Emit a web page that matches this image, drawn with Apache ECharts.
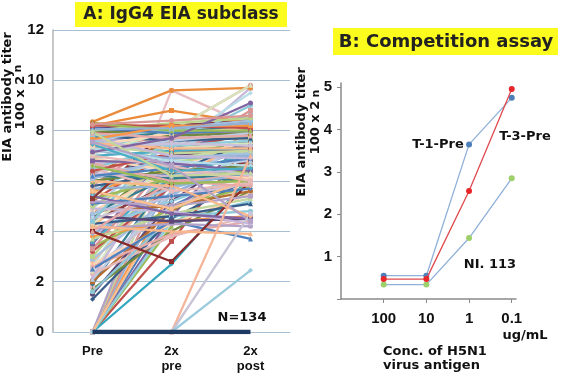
<!DOCTYPE html>
<html><head><meta charset="utf-8">
<script src="https://cdn.jsdelivr.net/npm/echarts@6/dist/echarts.min.js"></script>
<style>html,body{margin:0;padding:0;background:#fff}#c{width:565px;height:374px}</style>
</head><body><div id="c"></div>
<script>
// ---------- Panel A data ----------
const categoriesA = ['Pre', '2x\npre', '2x\npost'];
const yTicksA = [0, 2, 4, 6, 8, 10, 12];
// each row: one subject -> [Pre, 2x pre, 2x post]  (N = 134)
const titers = [
  // Pre = 0
  [0,5.0,6.5],[0,3.6,7.6],[0,4.2,6.8],[0,4.6,7.9],[0,2.7,6.2],[0,5.6,8.1],[0,6.1,7.4],[0,6.6,8.4],[0,7.2,7.0],[0,7.8,8.0],
  [0,4.4,5.2],[0,5.3,6.0],
  // Pre 1.3 - 3
  [1.3,4.5,6.1],[1.8,9.6,8.2],[1.7,4.0,5.6],[1.5,5.2,7.3],[1.9,6.3,7.0],[2.0,4.8,6.6],[2.1,5.6,7.8],[2.3,3.8,4.6],[2.4,6.8,7.5],[2.5,5.0,6.0],
  [2.6,7.4,8.0],[2.7,4.3,5.5],[2.8,6.0,7.7],[2.9,5.4,7.2],[2.2,7.0,9.7],[1.6,4.6,4.8],[2.6,3.9,4.4],[3.0,6.5,8.3],[2.5,4.4,3.7],
  // Pre 3 - 4
  [3.2,5.8,6.4],[3.4,4.9,5.8],[3.5,7.3,7.9],[3.6,6.2,7.1],[3.8,4.4,4.6],[3.9,5.5,6.9],[3.3,6.9,8.8],[3.7,4.7,5.3],
  // Pre 4 - 5
  [4.1,4.3,4.2],[4.1,5.2,6.3],[4.2,6.6,7.4],[4.3,4.6,5.1],[4.4,5.9,6.8],[4.5,7.0,7.6],[4.6,4.4,4.5],[4.7,6.2,6.0],[4.8,5.0,5.6],[4.9,7.6,8.5],
  [4.0,2.8,6.0],[4.3,6.8,7.2],[4.5,5.4,5.9],[4.6,7.4,9.5],[4.8,6.4,7.8],[4.2,4.0,3.9],[4.7,5.7,6.6],[4.9,4.8,4.3],[4.4,7.9,8.6],[4.0,6.0,6.2],
  // Pre 5 - 6
  [5.0,6.7,7.3],[5.1,5.4,5.7],[5.2,7.2,7.9],[5.3,6.1,6.4],[5.4,4.7,4.5],[5.5,7.8,8.1],[5.6,6.5,6.0],[5.7,5.8,6.3],[5.8,8.0,9.8],[5.9,6.9,7.2],
  [5.2,5.0,5.4],[5.4,7.5,7.0],[5.6,4.9,6.1],[5.8,6.3,7.6],[5.3,8.2,8.4],
  // Pre 6 - 7
  [6.0,6.4,6.6],[6.1,7.0,7.4],[6.2,6.1,6.3],[6.3,7.6,7.8],[6.4,6.6,6.8],[6.5,5.6,5.9],[6.6,7.3,7.5],[6.7,6.8,6.2],[6.8,7.9,8.2],[6.9,6.4,6.1],
  [6.0,5.8,4.6],[6.1,6.9,7.1],[6.3,6.2,6.5],[6.5,7.4,9.0],[6.7,6.0,5.8],[6.9,7.7,7.7],[6.2,6.5,6.9],[6.4,7.1,7.3],[6.6,5.9,6.0],[6.8,6.7,6.4],
  // Pre 7 - 8.35
  [7.0,7.2,7.3],[8.35,9.6,9.7],[7.2,6.9,7.0],[7.3,7.8,8.0],[7.4,7.1,7.2],[7.5,8.0,8.1],[7.6,7.4,7.6],[8.2,8.8,8.3],[7.8,7.6,7.7],[7.9,8.1,8.0],
  [8.0,7.8,7.9],[8.1,8.2,8.3],[7.7,7.9,8.2],[8.3,8.1,8.2],[7.1,7.6,7.9],[7.0,6.6,6.0],[7.1,8.0,9.8],[7.2,7.5,7.4],[7.3,6.8,6.6],[7.4,7.9,8.1],
  [7.5,7.3,7.3],[7.6,8.1,8.4],[7.7,7.0,6.9],[7.8,8.0,8.3],[7.9,7.7,7.8],[8.0,8.3,8.5],[8.1,7.9,8.0],[8.2,8.2,8.1],[8.3,8.0,8.0],[7.15,7.7,9.1],
  [7.45,6.4,6.5],[7.65,8.2,8.2],[8.05,8.1,8.3],[8.25,8.4,8.6],[7.95,6.2,6.3],[7.55,6.6,4.4],
  // 2x pre = 0
  [0,0,7.0],[0,0,4.7],[0,0,2.45],
  // all zero
  [0,0,0]
];

// ---------- Panel B data ----------
const concLabels = ['100', '10', '1', '0.1'];
const yTicksB = [1, 2, 3, 4, 5];
const t1Pre  = [0.55, 0.55, 3.65, 4.75];
const t3Pre  = [0.47, 0.47, 2.55, 4.96];
const ni113  = [0.34, 0.34, 1.44, 2.85];

// ---------- styles ----------
const FONT = "'Liberation Sans', Arial, sans-serif";
const WFONT = "'DejaVu Sans', 'Liberation Sans', sans-serif";
const palette = [
  '#4F81BD','#C0504D','#9BBB59','#8064A2','#4BACC6','#F79646',
  '#95B3D7','#D99694','#C3D69B','#B3A2C7','#93CDDD','#FAC090',
  '#385D8A','#8C3836','#71893F','#5C4776','#357D91','#B66D31',
  '#B9CDE5','#E6B9B8','#D7E4BD','#CCC1DA','#B7DEE8','#FCD5B5',
  '#F9B88B','#A6C1E0','#C6B8DA','#8DC8D8','#E7A9A7','#B9D38A'
];
const symbols = ['diamond','rect','triangle','circle'];
const n = titers.length;
const colorOverride = {};
colorOverride[n-4] = '#F4B59A';
colorOverride[n-3] = '#C9C3D6';
colorOverride[n-2] = '#9CCBDD';
colorOverride[n-1] = '#1F3A63';
colorOverride[1 + 94] = '#E98B3A';   // top orange line
colorOverride[7 + 94] = '#E98B3A';
colorOverride[13] = '#E8BFC4';       // pink line rising to 9.6
colorOverride[49] = '#8B2A2A';       // dark red line
colorOverride[4] = '#34A7BF';        // cyan line

const seriesA = titers.map((row, i) => {
  const last = i === n - 1;
  const c = colorOverride[i] || palette[i % palette.length];
  return {
    type: 'line', xAxisIndex: 0, yAxisIndex: 0, data: row,
    symbol: last ? 'none' : symbols[i % symbols.length],
    symbolSize: 5, showSymbol: !last,
    lineStyle: { width: last ? 4.5 : 2.3, color: c },
    itemStyle: { color: c },
    z: last ? 5 : 2, silent: true
  };
});

function bSeries(vals, lineColor, dotColor, z) {
  return {
    type: 'line', xAxisIndex: 1, yAxisIndex: 1,
    data: vals.map((v, i) => [i + 1, v]),
    symbol: 'circle', symbolSize: 6,
    lineStyle: { width: 1.3, color: lineColor },
    itemStyle: { color: dotColor },
    z: z, silent: true
  };
}

const option = {
  animation: false,
  backgroundColor: '#fff',
  textStyle: { fontFamily: FONT },
  grid: [
    { left: 53, top: 30, width: 237, height: 302 },
    { left: 341, top: 83, width: 175, height: 216 }
  ],
  xAxis: [
    {
      gridIndex: 0, type: 'category', data: categoriesA, boundaryGap: true,
      axisLine: { show: true, lineStyle: { color: '#a8bed2', width: 1 } },
      axisTick: { show: false },
      axisLabel: { margin: 12, fontSize: 13, fontWeight: 'bold', color: '#111', lineHeight: 15, fontFamily: FONT }
    },
    {
      gridIndex: 1, type: 'value', min: 0, max: 4.1,
      axisLine: { show: true, lineStyle: { color: '#8a8a8a', width: 1.5 } },
      axisTick: { show: true, length: 4, customValues: [1, 2, 3, 4], lineStyle: { color: '#8a8a8a' } },
      axisLabel: { customValues: [1, 2, 3, 4], formatter: v => concLabels[Math.round(v) - 1] || '',
        margin: 12, fontSize: 15, fontWeight: 'bold', color: '#111', fontFamily: FONT },
      splitLine: { show: false }
    }
  ],
  yAxis: [
    {
      gridIndex: 0, type: 'value', min: 0, max: 12, interval: 2,
      axisLine: { show: true, lineStyle: { color: '#b4b4b4', width: 1.5 } },
      axisTick: { show: false },
      axisLabel: { margin: 9, fontSize: 15, fontWeight: 'bold', color: '#111', fontFamily: FONT,
        formatter: v => yTicksA.includes(v) ? String(v) : '' },
      splitLine: { show: true, lineStyle: { color: '#a8bed2', width: 1 } }
    },
    {
      gridIndex: 1, type: 'value', min: 0, max: 5.1,
      axisLine: { show: true, lineStyle: { color: '#8a8a8a', width: 1.5 } },
      axisTick: { show: true, length: 4, inside: false, customValues: [0, 1, 2, 3, 4, 5], lineStyle: { color: '#8a8a8a' } },
      axisLabel: { customValues: yTicksB, margin: 9, fontSize: 15, fontWeight: 'bold', color: '#111', fontFamily: FONT },
      splitLine: { show: false }
    }
  ],
  series: seriesA.concat([
    bSeries(t1Pre, '#8fb0d8', '#4f7fb8', 3),
    bSeries(ni113, '#8fb0d8', '#9dcf6a', 3),
    bSeries(t3Pre, '#e04a4e', '#e8262b', 4)
  ]),
  graphic: [
    // Panel A title
    { type: 'rect', left: 75, top: 2, shape: { width: 212, height: 25 }, style: { fill: '#fbfb1e' }, z: 10 },
    { type: 'text', x: 181, y: 15, style: { text: 'A: IgG4 EIA subclass', fill: '#222', font: "bold 17px " + WFONT, align: 'center', verticalAlign: 'middle' }, z: 11 },
    // Panel A y-axis name
    { type: 'text', x: 8, y: 97, rotation: Math.PI / 2,
      style: { text: 'EIA antibody titer', fill: '#111', font: "bold 13px " + WFONT, align: 'center', verticalAlign: 'middle' }, z: 11 },
    { type: 'text', x: 21, y: 97, rotation: Math.PI / 2,
      style: { text: '{a|100 x 2} {s|n}', align: 'center', verticalAlign: 'middle',
        rich: { a: { font: "bold 13px " + WFONT, fill: '#111' }, s: { font: "bold 11px " + WFONT, fill: '#111', verticalAlign: 'top', padding: [0,0,6,0] } } }, z: 11 },
    // N=134
    { type: 'text', x: 242, y: 318, style: { text: 'N=134', fill: '#111', font: "bold 13px " + WFONT, align: 'center', verticalAlign: 'middle' }, z: 11 },
    // Panel B title
    { type: 'rect', left: 333, top: 28, shape: { width: 225, height: 27 }, style: { fill: '#fbfb1e' }, z: 10 },
    { type: 'text', x: 446, y: 42, style: { text: 'B: Competition assay', fill: '#222', font: "bold 18px " + WFONT, align: 'center', verticalAlign: 'middle' }, z: 11 },
    // Panel B y-axis name
    { type: 'text', x: 302, y: 132, rotation: Math.PI / 2,
      style: { text: 'EIA antibody titer', fill: '#111', font: "bold 13px " + WFONT, align: 'center', verticalAlign: 'middle' }, z: 11 },
    { type: 'text', x: 316, y: 122, rotation: Math.PI / 2,
      style: { text: '{a|100 x 2} {s|n}', align: 'center', verticalAlign: 'middle',
        rich: { a: { font: "bold 13px " + WFONT, fill: '#111' }, s: { font: "bold 11px " + WFONT, fill: '#111' } } }, z: 11 },
    // series labels
    { type: 'text', x: 438, y: 145, style: { text: 'T-1-Pre', fill: '#111', font: "bold 13px " + WFONT, align: 'center', verticalAlign: 'middle' }, z: 11 },
    { type: 'text', x: 525, y: 137, style: { text: 'T-3-Pre', fill: '#111', font: "bold 13px " + WFONT, align: 'center', verticalAlign: 'middle' }, z: 11 },
    { type: 'text', x: 490, y: 265, style: { text: 'NI. 113', fill: '#111', font: "bold 13px " + WFONT, align: 'center', verticalAlign: 'middle' }, z: 11 },
    // units & axis name
    { type: 'text', x: 525, y: 336, style: { text: 'ug/mL', fill: '#111', font: "bold 13px " + WFONT, align: 'center', verticalAlign: 'middle' }, z: 11 },
    { type: 'text', x: 383, y: 352, style: { text: 'Conc. of H5N1', fill: '#111', font: "bold 13px " + WFONT, align: 'left', verticalAlign: 'middle' }, z: 11 },
    { type: 'text', x: 383, y: 366, style: { text: 'virus antigen', fill: '#111', font: "bold 13px " + WFONT, align: 'left', verticalAlign: 'middle' }, z: 11 }
  ]
};
const chart = echarts.init(document.getElementById('c'), null, { renderer: 'canvas' });
chart.setOption(option);
</script>
</body></html>
